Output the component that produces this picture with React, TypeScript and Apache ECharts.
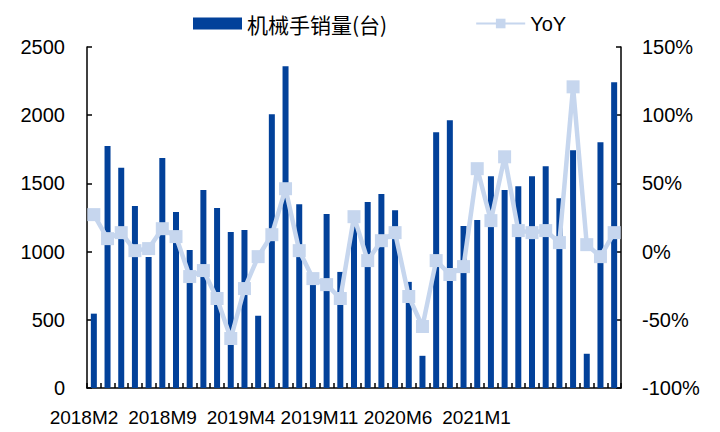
import React, { useEffect, useRef } from "react";
import * as echarts from "echarts";

const categories = [
  "2018M2","2018M3","2018M4","2018M5","2018M6","2018M7","2018M8","2018M9","2018M10","2018M11","2018M12",
  "2019M1","2019M2","2019M3","2019M4","2019M5","2019M6","2019M7","2019M8","2019M9","2019M10","2019M11","2019M12",
  "2020M1","2020M2","2020M3","2020M4","2020M5","2020M6","2020M7","2020M8","2020M9","2020M10","2020M11","2020M12",
  "2021M1","2021M2","2021M3","2021M4",
];

const sales = [
  545, 1775, 1615, 1335, 960, 1687, 1290, 1012, 1451, 1319, 1143,
  1158, 529, 2007, 2358, 1348, 800, 1275, 851, 1260, 1363, 1422, 1304,
  778, 236, 1875, 1963, 1188, 1231, 1553, 1451, 1480, 1553, 1626, 1392,
  1743, 251, 1802, 2241,
];

const yoy = [
  27.1, 9.5, 13.9, 0.7, 2.2, 16.8, 11.0, -18.3, -13.9, -34.4, -63.7,
  -27.1, -3.7, 12.4, 46.1, 0.7, -19.8, -24.2, -34.4, 25.6, -6.6, 8.0, 13.9,
  -32.9, -54.9, -6.6, -16.8, -11.0, 60.8, 22.7, 69.5, 15.4, 13.9, 15.4, 6.6,
  120.8, 5.1, -3.7, 13.9,
];

const xTickLabels = ["2018M2", "2018M9", "2019M4", "2019M11", "2020M6", "2021M1"];

const BAR_COLOR = "#02419a";
const LINE_COLOR = "#c6d6ee";
const FONT = "'Liberation Sans', Arial, sans-serif";

export default function App() {
  const ref = useRef<HTMLDivElement>(null);

  useEffect(() => {
    if (!ref.current) return;
    const chart = echarts.init(ref.current, undefined, { renderer: "svg" });
    const axisLineStyle = { color: "#000", width: 1.5 };
    chart.setOption({
      animation: false,
      textStyle: { fontFamily: FONT },
      legend: {
        left: 188,
        top: 8,
        itemWidth: 49,
        itemHeight: 12,
        itemGap: 88,
        textStyle: { fontSize: 21, color: "#000", fontFamily: "'Noto Sans CJK SC', " + FONT },
        data: [
          { name: "机械手销量(台)", icon: "rect" },
          { name: "YoY", textStyle: { fontSize: 20, fontFamily: FONT } },
        ],
      },
      grid: [
        { left: 87, right: 99, top: 47, bottom: 44 },
        { left: 44.75, width: 471, top: 47, bottom: 44 },
      ],
      xAxis: [
        {
          type: "category",
          gridIndex: 0,
          data: categories,
          boundaryGap: true,
          axisLine: { lineStyle: axisLineStyle },
          axisTick: { show: true, inside: true, length: 5, interval: 0, lineStyle: { color: "#000", width: 1.5 } },
          axisLabel: { show: false },
        },
        {
          type: "category",
          gridIndex: 1,
          data: xTickLabels,
          boundaryGap: true,
          axisLine: { show: false },
          axisTick: { show: false },
          axisLabel: { show: true, interval: 0, fontSize: 19, color: "#000", margin: 20, fontFamily: FONT },
        },
      ],
      yAxis: [
        {
          type: "value",
          gridIndex: 0,
          min: 0,
          max: 2500,
          interval: 500,
          axisLine: { show: true, lineStyle: axisLineStyle },
          axisTick: { show: true, inside: true, length: 5, lineStyle: { color: "#000", width: 1.5 } },
          axisLabel: {
            fontSize: 20,
            color: "#000",
            margin: 22,
            fontFamily: FONT,
            formatter: (v: number) => String(v),
          },
          splitLine: { show: false },
        },
        {
          type: "value",
          gridIndex: 0,
          position: "right",
          min: -100,
          max: 150,
          interval: 50,
          axisLine: { show: true, lineStyle: axisLineStyle },
          axisTick: { show: true, inside: true, length: 5, lineStyle: { color: "#000", width: 1.5 } },
          axisLabel: { fontSize: 20, color: "#000", margin: 21, formatter: "{value}%", fontFamily: FONT },
          splitLine: { show: false },
        },
        {
          type: "value",
          gridIndex: 1,
          show: false,
          min: 0,
          max: 1,
        },
      ],
      series: [
        {
          name: "机械手销量(台)",
          type: "bar",
          xAxisIndex: 0,
          yAxisIndex: 0,
          data: sales,
          barWidth: 6,
          itemStyle: { color: BAR_COLOR },
        },
        {
          name: "YoY",
          type: "line",
          xAxisIndex: 0,
          yAxisIndex: 1,
          data: yoy,
          symbol: "rect",
          symbolSize: 13,
          showSymbol: true,
          showAllSymbol: true,
          lineStyle: { color: LINE_COLOR, width: 4.5 },
          itemStyle: { color: LINE_COLOR },
          z: 3,
        },
      ],
    });
    return () => chart.dispose();
  }, []);

  return (
    <div
      ref={ref}
      style={{ position: "fixed", left: 0, top: 0, width: 720, height: 432, background: "#fff" }}
    />
  );
}
